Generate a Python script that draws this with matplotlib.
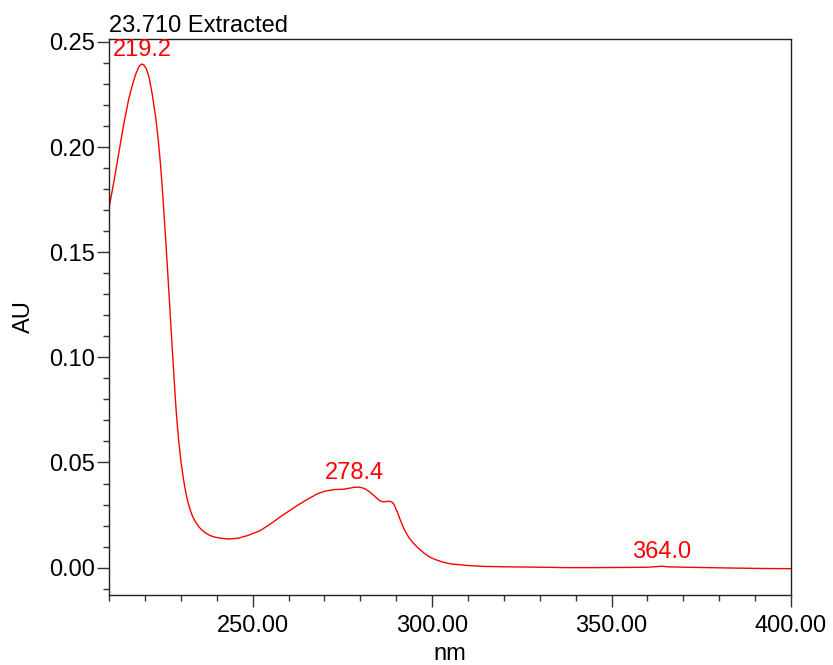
import matplotlib
matplotlib.use('Agg')
import matplotlib.pyplot as plt
from matplotlib.ticker import MultipleLocator, FormatStrFormatter

plt.rcParams['font.family'] = ['Liberation Sans', 'DejaVu Sans']

# spectrum (nm, AU)
wavelength = [210, 211.5, 212.7, 214, 215.5, 216.5, 217.4, 218.2, 218.8, 219.2, 219.7, 220.4,
              221.1, 222, 223, 223.7, 224.4, 225.1, 225.8, 226.5, 227.2, 227.9, 228.6, 229.3,
              230, 230.8, 231.4, 232, 232.7, 233.3, 234, 234.8, 235.5, 236.3, 237, 238, 239.2,
              241, 243.4, 246, 248.5, 252, 255, 258, 262.4, 265, 268, 270, 272.6, 275.4,
              277, 278.4, 279.5, 280.5, 281.4, 282.6, 283.8, 284.8, 285.6, 286.4, 287.2, 288,
              288.8, 289.4, 290.3, 291.2, 292.3, 293.5, 294.7, 295.9, 297, 298, 299.2, 300.5,
              303, 305.1, 310, 314.4, 320, 330, 337.6, 345, 355, 360, 362.7, 364, 365.5, 370,
              384, 392, 400]
absorbance = [0.171, 0.185, 0.197, 0.210, 0.223, 0.2295, 0.2345, 0.2378, 0.2392, 0.2395, 0.2390, 0.2372,
              0.2335, 0.2255, 0.214, 0.2035, 0.1906, 0.174, 0.1557, 0.136, 0.116, 0.096, 0.077, 0.062,
              0.051, 0.0414, 0.0355, 0.031, 0.027, 0.0243, 0.022, 0.0200, 0.0185, 0.0173, 0.0164, 0.0154, 0.0146,
              0.0140, 0.0136, 0.0140, 0.0152, 0.0175, 0.0208, 0.0245, 0.0295, 0.0322, 0.0351, 0.0363, 0.0371, 0.0373,
              0.0378, 0.0382, 0.0383, 0.0380, 0.0374, 0.0360, 0.0343, 0.0327, 0.0317, 0.0313, 0.0314, 0.0316,
              0.0312, 0.0300, 0.0265, 0.0224, 0.0180, 0.0144, 0.0118, 0.0097, 0.0080, 0.0066, 0.0052, 0.0041,
              0.0026, 0.0018, 0.0010, 0.0006, 0.0004, 0.0002, 0.0, 0.0, 0.0001, 0.0002, 0.0005, 0.0007, 0.0004, 0.0002,
              -0.0002, -0.0004, -0.0005]

peak_nm = [219.2, 278.4, 364.0]
peak_au = [0.2395, 0.0383, 0.0007]
peak_labels = ['219.2', '278.4', '364.0']

fig = plt.figure(figsize=(8.33, 6.65), dpi=100)
ax = fig.add_axes([0.1309, 0.1053, 0.8187, 0.8361])

ax.plot(wavelength, absorbance, color='red', lw=1.0)

for x, y, lab in zip(peak_nm, peak_au, peak_labels):
    ax.annotate(lab, (x, y), xytext=(0, 2), textcoords='offset points',
                ha='center', va='bottom', color='red', fontsize=17)

ax.set_xlim(210, 400)
ax.set_ylim(-0.013, 0.2514)

ax.xaxis.set_major_locator(MultipleLocator(50))
ax.xaxis.set_minor_locator(MultipleLocator(10))
ax.yaxis.set_major_locator(MultipleLocator(0.05))
ax.yaxis.set_minor_locator(MultipleLocator(0.01))
ax.xaxis.set_major_formatter(FormatStrFormatter('%.2f'))
ax.yaxis.set_major_formatter(FormatStrFormatter('%.2f'))

ax.tick_params(which='major', length=8.5, width=1, color='#333333', labelsize=17, pad=3)
ax.tick_params(which='minor', length=4, width=1, color='#333333')
ax.tick_params(axis='y', which='major', pad=1.5)
ax.tick_params(axis='x', which='major', pad=6)

for s in ax.spines.values():
    s.set_linewidth(1.0)
    s.set_color('#222222')

ax.set_xlabel('nm', fontsize=17, labelpad=4)
ax.set_ylabel('AU', fontsize=17, labelpad=10)
ax.set_title('23.710 Extracted', loc='left', fontsize=17, pad=5)

fig.savefig('out.png', dpi=100)
